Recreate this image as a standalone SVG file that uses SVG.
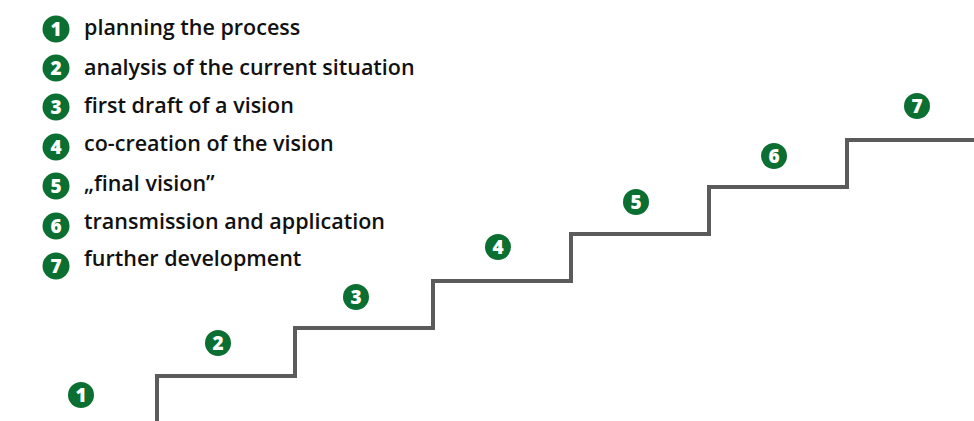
<svg xmlns="http://www.w3.org/2000/svg" width="974" height="421" viewBox="0 0 974 421">
<style>
.c{fill:#0b6f32}
.n{font-family:"Open Sans","Liberation Sans",sans-serif;font-weight:800;font-size:19px;fill:#fff;text-anchor:middle}
.t{font-family:"Open Sans","Liberation Sans",sans-serif;font-weight:600;font-size:21.5px;fill:#111}
.s{fill:none;stroke:#5b5b5b;stroke-width:4}
</style>
<rect width="974" height="421" fill="#fff"/>
<g id="connectors">
<path class="s" d="M157 421 V376 H295 V328 H433 V281 H571 V234 H709 V187 H847 V140 H974"/>
</g>
<g id="legend">
<g id="l1"><circle class="c" cx="56" cy="29" r="13.5"/><text class="n" x="56" y="36">1</text><text class="t" x="84" y="35">planning the process</text></g>
<g id="l2"><circle class="c" cx="56" cy="68" r="13.5"/><text class="n" x="56" y="75">2</text><text class="t" x="84" y="75">analysis of the current situation</text></g>
<g id="l3"><circle class="c" cx="56" cy="107" r="13.5"/><text class="n" x="56" y="114">3</text><text class="t" x="84" y="113">first draft of a vision</text></g>
<g id="l4"><circle class="c" cx="56" cy="147" r="13.5"/><text class="n" x="56" y="154">4</text><text class="t" x="84" y="151">co-creation of the vision</text></g>
<g id="l5"><circle class="c" cx="56" cy="186" r="13.5"/><text class="n" x="56" y="193">5</text><text class="t" x="84" y="191">„final vision”</text></g>
<g id="l6"><circle class="c" cx="56" cy="226" r="13.5"/><text class="n" x="56" y="233">6</text><text class="t" x="84" y="229">transmission and application</text></g>
<g id="l7"><circle class="c" cx="56" cy="266" r="13.5"/><text class="n" x="56" y="273">7</text><text class="t" x="84" y="266">further development</text></g>
</g>
<g id="steps">
<g id="s1"><circle class="c" cx="81" cy="395" r="13"/><text class="n" x="81" y="402">1</text></g>
<g id="s2"><circle class="c" cx="218" cy="343" r="13"/><text class="n" x="218" y="350">2</text></g>
<g id="s3"><circle class="c" cx="356" cy="297" r="13"/><text class="n" x="356" y="304">3</text></g>
<g id="s4"><circle class="c" cx="498" cy="247" r="13"/><text class="n" x="498" y="254">4</text></g>
<g id="s5"><circle class="c" cx="636" cy="202" r="13"/><text class="n" x="636" y="209">5</text></g>
<g id="s6"><circle class="c" cx="774" cy="156" r="13"/><text class="n" x="774" y="163">6</text></g>
<g id="s7"><circle class="c" cx="917" cy="106" r="13"/><text class="n" x="917" y="113">7</text></g>
</g>
</svg>
